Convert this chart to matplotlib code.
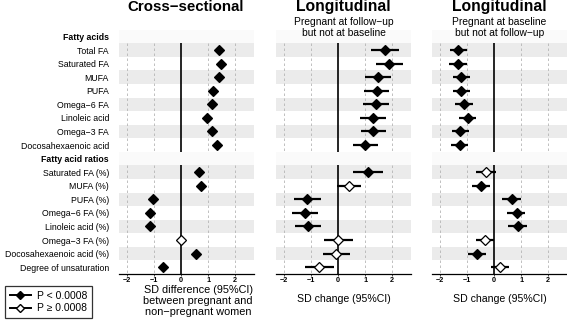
import matplotlib.pyplot as plt
from matplotlib.lines import Line2D

plt.rcParams['font.family'] = ['Liberation Sans', 'DejaVu Sans']

# row labels (two group headers + items)
fa_items = ['Total FA', 'Saturated FA', 'MUFA', 'PUFA', 'Omega\u22126 FA',
            'Linoleic acid', 'Omega\u22123 FA', 'Docosahexaenoic acid']
ratio_items = ['Saturated FA (%)', 'MUFA (%)', 'PUFA (%)', 'Omega\u22126 FA (%)',
               'Linoleic acid (%)', 'Omega\u22123 FA (%)', 'Docosahexaenoic acid (%)',
               'Degree of unsaturation']
headers = ['Fatty acids', 'Fatty acid ratios']

# cross-sectional: SD difference (CIs are hidden behind the markers)
cs_est = [1.40, 1.47, 1.40, 1.18, 1.13, 0.97, 1.13, 1.33,
          0.66, 0.74, -1.03, -1.14, -1.14, 0.00, 0.55, -0.66]
cs_sig = [1, 1, 1, 1, 1, 1, 1, 1, 1, 1, 1, 1, 1, 0, 1, 1]

# longitudinal: pregnant at follow-up but not at baseline
l1_est = [1.75, 1.90, 1.48, 1.45, 1.39, 1.28, 1.30, 1.00,
          1.10, 0.40, -1.14, -1.23, -1.12, 0.00, -0.07, -0.69]
l1_lo = [1.23, 1.42, 1.00, 0.96, 0.91, 0.80, 0.84, 0.55,
         0.55, -0.04, -1.64, -1.72, -1.61, -0.54, -0.57, -1.23]
l1_hi = [2.24, 2.39, 1.96, 1.90, 1.87, 1.76, 1.78, 1.46,
         1.66, 0.86, -0.62, -0.73, -0.62, 0.54, 0.43, -0.17]
l1_sig = [1, 1, 1, 1, 1, 1, 1, 1, 1, 0, 1, 1, 1, 0, 0, 0]

# longitudinal: pregnant at baseline but not at follow-up
l2_est = [-1.33, -1.33, -1.21, -1.21, -1.13, -0.98, -1.25, -1.27,
          -0.29, -0.49, 0.65, 0.83, 0.87, -0.33, -0.64, 0.22]
l2_lo = [-1.65, -1.66, -1.54, -1.54, -1.46, -1.31, -1.57, -1.58,
         -0.66, -0.81, 0.31, 0.49, 0.53, -0.67, -0.97, -0.12]
l2_hi = [-0.99, -0.99, -0.90, -0.90, -0.80, -0.66, -0.94, -0.98,
         0.07, -0.17, 0.99, 1.16, 1.21, 0.01, -0.29, 0.56]
l2_sig = [1, 1, 1, 1, 1, 1, 1, 1, 0, 1, 1, 1, 1, 0, 1, 0]

xticks = [-2, -1, 0, 1, 2]

# row positions: header 0, items 1-8, header 9, items 10-17
labels = [headers[0]] + fa_items + [headers[1]] + ratio_items
item_rows = list(range(1, 9)) + list(range(10, 18))
header_rows = [0, 9]

W, H = 567, 323
fig = plt.figure(figsize=(W / 100, H / 100), dpi=100)

top_px, bot_px = 29.7, 274.0
panel_left = [119, 276, 432]
panel_w = 135


def make_ax(left):
    return fig.add_axes([left / W, 1 - bot_px / H, panel_w / W, (bot_px - top_px) / H])


def draw_panel(ax, est, sig, lo=None, hi=None):
    ax.set_xlim(-2.3, 2.7)
    ax.set_ylim(17.5, -0.5)
    for r in range(18):
        if r in header_rows:
            c = '#FAFAFA'
        else:
            idx = r - 1 if r < 9 else r - 10
            c = '#EBEBEB' if idx % 2 == 0 else 'white'
        ax.axhspan(r - 0.5, r + 0.5, color=c, lw=0, zorder=0)
    for g0, g1 in [(0.5, 8.5), (9.5, 17.5)]:
        for xv in [-2, -1, 1, 2]:
            ax.vlines(xv, g0, g1, colors='#B5B5B5', lw=0.6,
                      linestyles=(0, (3, 3)), zorder=1)
        ax.vlines(0, g0, g1, colors='black', lw=1.2, zorder=2)
    if lo is not None:
        ax.hlines(item_rows, lo, hi, colors='black', lw=1.6, zorder=3)
    for r, e, s in zip(item_rows, est, sig):
        ax.plot(e, r, marker='D', ms=4.6, mec='black', mew=0.9,
                mfc='black' if s else 'white', zorder=4)
    for side in ['top', 'right', 'left']:
        ax.spines[side].set_visible(False)
    ax.spines['bottom'].set_linewidth(0.9)
    ax.set_xticks(xticks)
    ax.set_xticklabels([f'{t}'.replace('-', '\u2212') for t in xticks],
                       fontsize=5.2, fontweight='bold')
    ax.tick_params(axis='x', length=1.2, width=0.5, pad=1.2)
    ax.set_yticks([])


ax1 = make_ax(panel_left[0])
draw_panel(ax1, cs_est, cs_sig)
ax1.set_yticks(range(18))
ax1.set_yticklabels(labels, fontsize=6.3)
ax1.tick_params(axis='y', length=0, pad=7.2)
for r, t in enumerate(ax1.get_yticklabels()):
    if r in header_rows:
        t.set_fontweight('bold')

ax2 = make_ax(panel_left[1])
draw_panel(ax2, l1_est, l1_sig, l1_lo, l1_hi)
ax3 = make_ax(panel_left[2])
draw_panel(ax3, l2_est, l2_sig, l2_lo, l2_hi)

# titles
fig.text(186 / W, 1 - 7 / H, 'Cross\u2212sectional', ha='center', va='center',
         fontsize=10.8, fontweight='bold')
for left, sub in [(panel_left[1], 'Pregnant at follow\u2212up\nbut not at baseline'),
                  (panel_left[2], 'Pregnant at baseline\nbut not at follow\u2212up')]:
    cx = (left + panel_w / 2) / W
    fig.text(cx, 1 - 6.5 / H, 'Longitudinal', ha='center', va='center',
             fontsize=11.3, fontweight='bold')
    fig.text(cx, 1 - 27.5 / H, sub, ha='center', va='center', fontsize=7.4,
             linespacing=1.05)

# x labels
fig.text(198 / W, 1 - 301 / H,
         'SD difference (95%CI)\nbetween pregnant and\nnon\u2212pregnant women',
         ha='center', va='center', fontsize=7.8, linespacing=1.1)
for left in panel_left[1:]:
    fig.text((left + panel_w / 2) / W, 1 - 299 / H, 'SD change (95%CI)',
             ha='center', va='center', fontsize=7.6)

# legend
handles = [Line2D([], [], color='black', lw=1.4, marker='D', ms=3.8,
                  mfc='black', mec='black'),
           Line2D([], [], color='black', lw=1.4, marker='D', ms=3.8,
                  mfc='white', mec='black')]
leg = fig.legend(handles, ['P < 0.0008', 'P \u2265 0.0008'],
                 loc='lower left', bbox_to_anchor=(5 / W, 5 / H),
                 fontsize=7.5, frameon=True, fancybox=False, edgecolor='black',
                 handlelength=2.0, handletextpad=0.6, borderpad=0.45,
                 labelspacing=0.25, borderaxespad=0)
leg.get_frame().set_linewidth(0.9)

fig.savefig('out.png', dpi=100)
